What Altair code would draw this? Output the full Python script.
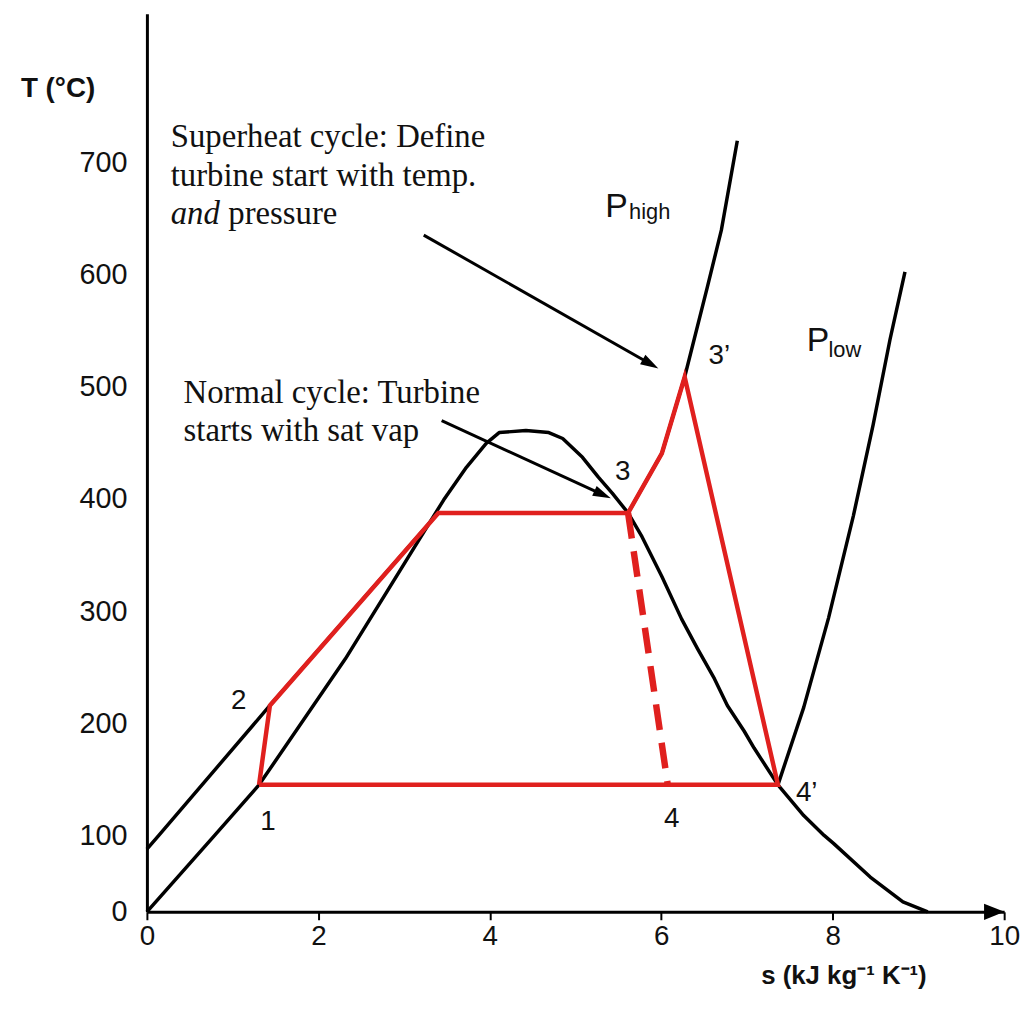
import altair as alt
import pandas as pd

RED = "#E0201E"
SANS = "Liberation Sans"
SERIF = "Liberation Serif"

# ---- data (s in kJ/kg/K, T in degC) ----
dome_s = [0.0, 0.79, 1.308, 2.315, 3.461, 3.727, 3.958, 4.109, 4.421, 4.688, 4.850,
          5.081, 5.266, 5.428, 5.613, 5.775, 6.007, 6.238, 6.424, 6.620, 6.771,
          6.968, 7.083, 7.361, 7.662, 7.90, 8.009, 8.438, 8.819, 9.109]
dome_T = [0, 100, 145.1, 257.5, 399.1, 428.3, 449.6, 459.3, 461.1, 459.3, 454.0,
          437.2, 419.5, 405.3, 387.6, 366.4, 331.0, 292.9, 266.4, 239.8, 215.9,
          192.9, 177.9, 145.1, 117.7, 100, 89.6, 45.5, 13.0, 0]

phigh_s = [0.0, 0.139, 1.435, 3.40, 5.613, 6.007, 6.273, 6.539, 6.701, 6.887]
phigh_T = [82, 100, 215.9, 387.6, 387.6, 440.7, 508.8, 589.4, 639.8, 719.5]

plow_s = [7.361, 7.662, 7.951, 8.241, 8.472, 8.669, 8.843]
plow_T = [145.1, 214.2, 293.8, 385.0, 466.4, 542.5, 602.7]

cycle_s = [1.308, 1.435, 3.40, 5.613, 6.007, 6.273, 7.361, 1.308]
cycle_T = [145.1, 215.9, 387.6, 387.6, 440.7, 508.8, 145.1, 145.1]

normal_s = [5.613, 6.076]
normal_T = [387.6, 145.1]

arrow_id = ["a", "a", "b", "b"]
arrow_s = [3.229, 5.875, 3.438, 5.316]
arrow_T = [635.4, 520.5, 469.9, 404.0]
head_s = [5.875, 5.316]
head_T = [520.5, 404.0]
head_angle = [29.6, 24.6]

axis_head_s = [9.884]
axis_head_T = [0]

pt_text = ["1", "2", "3", "3\u2019", "4", "4\u2019"]
pt_s = [1.412, 1.071, 5.55, 6.678, 6.123, 7.697]
pt_T = [111.5, 219.5, 423.9, 527.4, 114.2, 138.1]

note_text = ["Superheat cycle: Define", "turbine start with temp.", "pressure",
             "Normal cycle: Turbine", "starts with sat vap"]
note_s = [0.278, 0.278, 0.949, 0.428, 0.428]
note_T = [714.2, 679.6, 645.1, 485.8, 452.2]
ital_text = ["and"]
ital_s = [0.278]
ital_T = [645.1]

p_text = ["P", "P"]
p_s = [5.347, 7.697]
p_T = [651.3, 531.9]
sub_text = ["high", "low"]
sub_s = [5.625, 7.951]
sub_T = [649.6, 526.5]

x_ticks = [0, 2, 4, 6, 8, 10]
y_ticks = [0, 100, 200, 300, 400, 500, 600, 700]


def path_df(s, T):
    return pd.DataFrame({"s": s, "T": T, "i": list(range(len(s)))})


X = alt.X("s:Q",
          scale=alt.Scale(domain=[0, 10], nice=False, zero=False),
          axis=alt.Axis(values=x_ticks, title="s (kJ kg\u207b\u00b9 K\u207b\u00b9)",
                        grid=False, domainColor="black", domainWidth=3,
                        tickColor="black", tickWidth=2, tickSize=8,
                        labelFont=SANS, labelFontSize=28, labelColor="#111",
                        labelPadding=3, labelFlush=False, labelOverlap=False,
                        labelBound=False,
                        titleFont=SANS, titleFontSize=26, titleFontWeight="bold",
                        titleColor="#111", titleAlign="center", titleBaseline="middle",
                        titleX=702, titleY=64))
Y = alt.Y("T:Q",
          scale=alt.Scale(domain=[0, 100, 832.7], range=[905, 828, 0], nice=False, zero=False),
          axis=alt.Axis(values=y_ticks, title="T (\u00b0C)", grid=False,
                        domainColor="black", domainWidth=3, ticks=False,
                        labelFont=SANS, labelFontSize=29, labelColor="#111",
                        labelPadding=20, labelFlush=False, labelOverlap=False,
                        labelBound=False,
                        titleFont=SANS, titleFontSize=28, titleFontWeight="bold",
                        titleColor="#111", titleAngle=0, titleAlign="center",
                        titleBaseline="middle", titleX=-90, titleY=75))

ORDER = alt.Order("i:Q")

dome = alt.Chart(path_df(dome_s, dome_T)).mark_line(
    color="black", strokeWidth=3.5, strokeJoin="round").encode(X, Y, order=ORDER)
phigh = alt.Chart(path_df(phigh_s, phigh_T)).mark_line(
    color="black", strokeWidth=3.5, strokeJoin="round").encode(X, Y, order=ORDER)
plow = alt.Chart(path_df(plow_s, plow_T)).mark_line(
    color="black", strokeWidth=3.5, strokeJoin="round").encode(X, Y, order=ORDER)

cycle = alt.Chart(path_df(cycle_s, cycle_T)).mark_line(
    color=RED, strokeWidth=4.5, strokeJoin="miter").encode(X, Y, order=ORDER)
normal = alt.Chart(path_df(normal_s, normal_T)).mark_line(
    color=RED, strokeWidth=6.5, strokeDash=[26, 13]).encode(X, Y, order=ORDER)

arrows_df = pd.DataFrame({"id": arrow_id, "s": arrow_s, "T": arrow_T,
                          "i": list(range(len(arrow_s)))})
arrows = alt.Chart(arrows_df).mark_line(color="black", strokeWidth=3).encode(
    X, Y, detail="id:N", order=ORDER)

HEAD = "M-1,-0.6L1,0L-1,0.6Z"
heads_df = pd.DataFrame({"s": head_s, "T": head_T, "ang": head_angle})
heads = alt.Chart(heads_df).mark_point(
    shape=HEAD, filled=True, color="black", opacity=1, size=330, strokeWidth=0).encode(
    X, Y, angle=alt.Angle("ang:Q", scale=None))

axis_head = alt.Chart(pd.DataFrame({"s": axis_head_s, "T": axis_head_T})).mark_point(
    shape="M-1,-0.8L1,0L-1,0.8Z", filled=True, color="black", opacity=1,
    size=420, strokeWidth=0).encode(X, Y)

pts = alt.Chart(pd.DataFrame({"s": pt_s, "T": pt_T, "t": pt_text})).mark_text(
    font=SANS, fontSize=28, color="#111", align="center", baseline="middle").encode(
    X, Y, text="t:N")

notes = alt.Chart(pd.DataFrame({"s": note_s, "T": note_T, "t": note_text})).mark_text(
    font=SERIF, fontSize=33, color="#111", align="left", baseline="alphabetic").encode(
    X, Y, text="t:N")
ital = alt.Chart(pd.DataFrame({"s": ital_s, "T": ital_T, "t": ital_text})).mark_text(
    font=SERIF, fontSize=33, fontStyle="italic", color="#111", align="left",
    baseline="alphabetic").encode(X, Y, text="t:N")

pbig = alt.Chart(pd.DataFrame({"s": p_s, "T": p_T, "t": p_text})).mark_text(
    font=SANS, fontSize=34, color="#111", align="left", baseline="alphabetic").encode(
    X, Y, text="t:N")
psub = alt.Chart(pd.DataFrame({"s": sub_s, "T": sub_T, "t": sub_text})).mark_text(
    font=SANS, fontSize=22, color="#111", align="left", baseline="alphabetic").encode(
    X, Y, text="t:N")

chart = alt.layer(
    dome, phigh, plow, cycle, normal, arrows, heads, axis_head, pts, notes, ital, pbig, psub
).properties(
    width=864, height=905,
    autosize=alt.AutoSizeParams(type="none"),
    padding={"left": 140, "top": 2, "right": 21, "bottom": 90},
    background="white",
).configure_view(stroke=None)

chart.save("out.html", embed_options={"renderer": "svg", "actions": False})
